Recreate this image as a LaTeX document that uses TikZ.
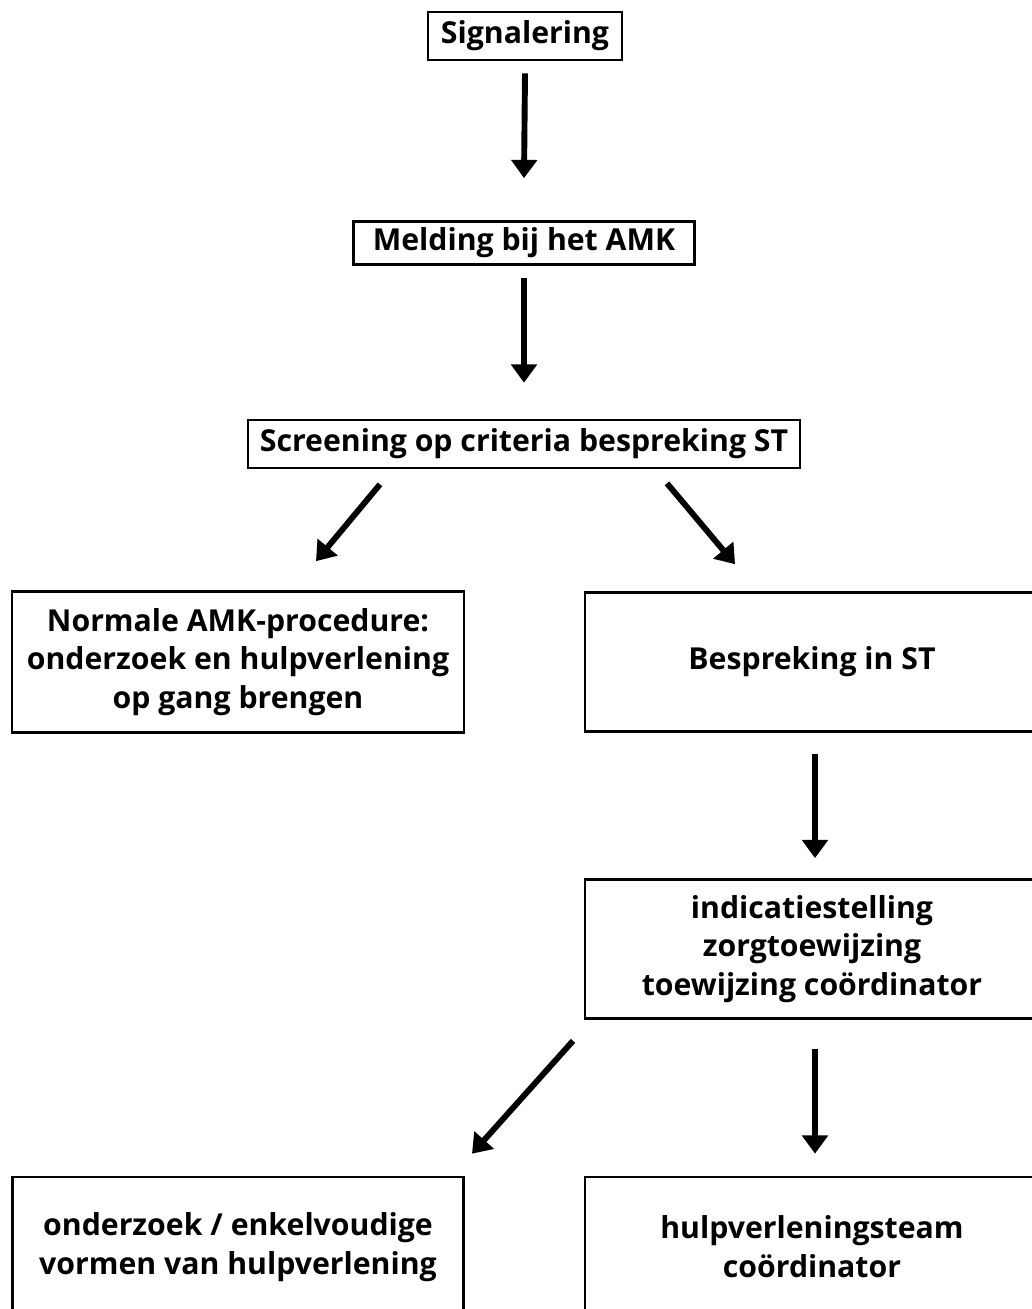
\documentclass[tikz,border=0pt]{standalone}
\usepackage{fontspec}
\setmainfont{Open Sans}
\usepackage{tikz}
\usetikzlibrary{positioning,calc,arrows.meta}
\definecolor{flowink}{RGB}{0,0,0}

\tikzset{
  stepbox/.style={draw=flowink,line width=1.9pt,align=center,inner sep=0pt,
    font=\fontsize{21.5}{27.6}\selectfont\bfseries,text=flowink},
  flow/.style={draw=flowink,line width=4.2pt,
    -{Triangle[length=13pt,width=18pt]}}
}

\begin{document}
\begin{tikzpicture}[x=0.025cm,y=-0.025cm]
  \useasboundingbox (0,0) rectangle (1032,1309);
  \clip (0,0) rectangle (1032,1309);
  % boxes
  \node[stepbox,minimum width=194*0.025cm,minimum height=48*0.025cm] (sig) at (525,36) {Signalering};
  \node[stepbox,minimum width=341*0.025cm,minimum height=43*0.025cm] (mel) at (524,243) {Melding bij het AMK};
  \node[stepbox,minimum width=552*0.025cm,minimum height=48*0.025cm] (scr) at (524,444) {Screening op criteria bespreking ST};
  \node[stepbox,minimum width=452*0.025cm,minimum height=141*0.025cm] (norm) at (238,662)
    {Normale AMK-procedure:\\onderzoek en hulpverlening\\op gang brengen};
  \node[stepbox,minimum width=454*0.025cm,minimum height=139*0.025cm] (besp) at (812,662) {Bespreking in ST};
  \node[stepbox,minimum width=454*0.025cm,minimum height=139*0.025cm] (ind) at (812,949)
    {indicatiestelling\\zorgtoewijzing\\toewijzing coördinator};
  \node[stepbox,minimum width=451*0.025cm,minimum height=140*0.025cm] (ond) at (238,1247)
    {onderzoek / enkelvoudige\\vormen van hulpverlening};
  \node[stepbox,minimum width=454*0.025cm,minimum height=140*0.025cm] (team) at (812,1247)
    {hulpverleningsteam\\coördinator};
  % arrows
  \draw[flow] ($(sig.south)+(0,12)$) -- ($(mel.north)+(0,-42)$);
  \draw[flow] ($(mel.south)+(0,12)$) -- ($(scr.north)+(0,-36)$);
  \draw[flow] ($(scr.south)+(-144,15)$) -- ($(norm.north)+(78,-29)$);
  \draw[flow] ($(scr.south)+(143,14)$) -- ($(besp.north)+(-77,-27)$);
  \draw[flow] ($(besp.south)+(3,21)$) -- ($(ind.north)+(3,-20)$);
  \draw[flow] ($(ind.south)+(-239,21)$) -- ($(ond.north)+(234,-22)$);
  \draw[flow] ($(ind.south)+(3,29)$) -- ($(team.north)+(3,-22)$);
\end{tikzpicture}
\end{document}
